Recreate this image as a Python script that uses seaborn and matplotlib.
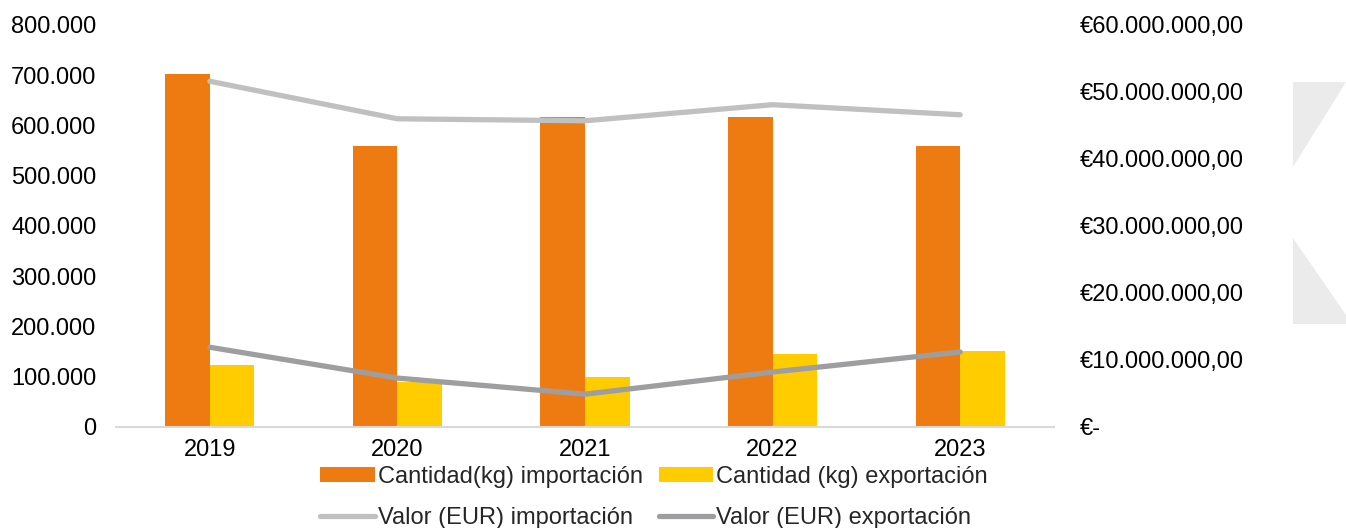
import matplotlib
matplotlib.use("Agg")

import matplotlib.pyplot as plt
import numpy as np
import pandas as pd
import seaborn as sns
from matplotlib.patches import Polygon
from matplotlib.ticker import FuncFormatter, MultipleLocator

# ---------------------------------------------------------------------------
# Data
# ---------------------------------------------------------------------------
years = ["2019", "2020", "2021", "2022", "2023"]
kg_import = [702000, 559000, 617000, 617000, 559000]
kg_export = [123000, 90000, 100000, 145000, 151000]
eur_import = [51600000, 46000000, 45700000, 48100000, 46600000]
eur_export = [11900000, 7300000, 4900000, 8200000, 11200000]

label_kg_imp = "Cantidad(kg) importación"
label_kg_exp = "Cantidad (kg) exportación"
label_eur_imp = "Valor (EUR) importación"
label_eur_exp = "Valor (EUR) exportación"

ORANGE = "#EE7B12"
YELLOW = "#FFCC00"
GRAY_LIGHT = "#C0C0C0"
GRAY_DARK = "#9E9EA0"

sns.set_theme(style="white")
plt.rcParams["font.family"] = ["Liberation Sans", "DejaVu Sans"]
FS = 17

bars_df = pd.DataFrame({
    "year": years * 2,
    "kg": kg_import + kg_export,
    "serie": [label_kg_imp] * len(years) + [label_kg_exp] * len(years),
})

fig = plt.figure(figsize=(13.46, 5.28), dpi=100)
ax = fig.add_axes([0.0862, 0.1913, 0.6968, 0.7614])

# faint watermark shapes on the right edge (figure decoration)
for verts in ([(0.9606, 0.8447), (1.0, 0.8447), (0.9606, 0.6837)],
              [(0.9606, 0.5492), (1.0, 0.4034), (1.0, 0.3864), (0.9606, 0.3864)]):
    fig.patches.append(Polygon(verts, closed=True, transform=fig.transFigure,
                               facecolor="#EBEBEB", edgecolor="none", zorder=0))

sns.barplot(data=bars_df, x="year", y="kg", hue="serie",
            palette=[ORANGE, YELLOW], saturation=1, width=0.475,
            linewidth=0, ax=ax)
ax.get_legend().remove()

ax2 = ax.twinx()
xpos = np.arange(len(years))
sns.lineplot(x=xpos, y=eur_import, color=GRAY_LIGHT, linewidth=3.8,
             label=label_eur_imp, ax=ax2, solid_capstyle="round")
sns.lineplot(x=xpos, y=eur_export, color=GRAY_DARK, linewidth=3.8,
             label=label_eur_exp, ax=ax2, solid_capstyle="round")
ax2.get_legend().remove()

ax.set_xlim(-0.5, len(years) - 0.5)
ax.set_ylim(0, 800000)
ax2.set_ylim(0, 60000000)
ax.yaxis.set_major_locator(MultipleLocator(100000))
ax2.yaxis.set_major_locator(MultipleLocator(10000000))

ax.yaxis.set_major_formatter(FuncFormatter(lambda v, _: f"{int(v):,}".replace(",", ".")))


def euro(v, _):
    if v == 0:
        return "€-"
    s = f"{v:,.2f}".replace(",", "#").replace(".", ",").replace("#", ".")
    return "€" + s


ax2.yaxis.set_major_formatter(FuncFormatter(euro))

ax.set_xlabel("")
ax.set_ylabel("")
ax2.set_ylabel("")
ax.tick_params(axis="x", length=0, pad=9, labelsize=FS, colors="#000000")
ax.tick_params(axis="y", length=0, pad=14, labelsize=FS, colors="#000000")
ax2.tick_params(axis="y", length=0, pad=19, labelsize=FS, colors="#000000")

for a in (ax, ax2):
    for side in ("top", "left", "right", "bottom"):
        a.spines[side].set_visible(False)
ax.spines["bottom"].set_visible(True)
ax.spines["bottom"].set_color("#D9D9D9")
ax.spines["bottom"].set_linewidth(1.5)
ax.set_facecolor("none")
ax2.set_facecolor("none")
ax.grid(False)
ax2.grid(False)

# legend: bars in first row, lines in second row
h1, l1 = ax.get_legend_handles_labels()
h2, l2 = ax2.get_legend_handles_labels()
handles = [h1[0], h2[0], h1[1], h2[1]]
labels = [l1[0], l2[0], l1[1], l2[1]]
fig.legend(handles, labels, ncol=2, loc="center", bbox_to_anchor=(0.486, 0.058),
           frameon=False, fontsize=FS, handlelength=2.3, handleheight=0.55,
           handletextpad=0.15, columnspacing=0.65, labelspacing=0.8,
           borderaxespad=0, borderpad=0)

fig.savefig("out.png", dpi=100)
plt.close(fig)
